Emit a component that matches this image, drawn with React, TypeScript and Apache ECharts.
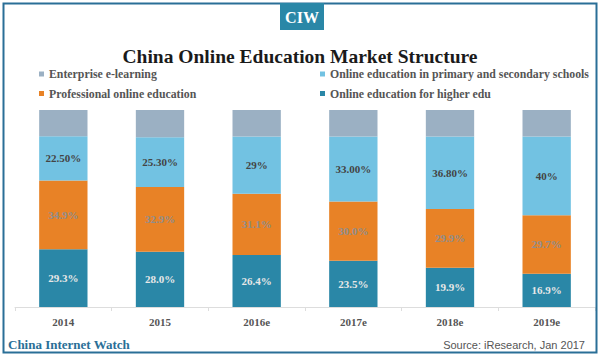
import React, { useEffect, useRef } from "react";
import * as echarts from "echarts";

const years = ["2014", "2015", "2016e", "2017e", "2018e", "2019e"];
const higherEdu = [29.3, 28.0, 26.4, 23.5, 19.9, 16.9];
const professional = [34.9, 32.9, 31.1, 30.0, 29.9, 29.7];
const primarySecondary = [22.5, 25.3, 29, 33.0, 36.8, 40];
const enterprise = [13.3, 13.8, 13.5, 13.5, 13.4, 13.4];
const primaryLabels = ["22.50%", "25.30%", "29%", "33.00%", "36.80%", "40%"];
const higherLabels = ["29.3%", "28.0%", "26.4%", "23.5%", "19.9%", "16.9%"];
const professionalLabels = ["34.9%", "32.9%", "31.1%", "30.0%", "29.9%", "29.7%"];

const SERIF = "'Liberation Serif', 'Times New Roman', serif";
const SANS = "'Liberation Sans', Arial, sans-serif";
const C_GRAY = "#9bb0c3";
const C_LBLUE = "#72c2e2";
const C_ORANGE = "#e88226";
const C_DBLUE = "#2a87a7";
const C_FRAME = "#2a6f97";

export default function App() {
  const ref = useRef<HTMLDivElement>(null);
  useEffect(() => {
    document.body.style.margin = "0";
    if (!ref.current) return;
    const chart = echarts.init(ref.current, undefined, { renderer: "svg" });
    const labelBase = {
      show: true,
      position: "inside",
      fontFamily: SERIF,
      fontWeight: "bold",
      fontSize: 11,
    };
    const legendText = { fontFamily: SERIF, fontWeight: "bold", fontSize: 11.8, color: "#555555" };
    chart.setOption({
      animation: false,
      backgroundColor: "#ffffff",
      title: {
        text: "China Online Education Market Structure",
        left: "center",
        top: 41,
        textStyle: { fontFamily: SERIF, fontWeight: "bold", fontSize: 19.5, color: "#1a1a1a" },
      },
      legend: [
        {
          orient: "vertical",
          left: 34,
          top: 63,
          itemWidth: 5,
          itemHeight: 5,
          itemGap: 7.5,
          icon: "rect",
          data: ["Enterprise e-learning", "Professional online education"],
          textStyle: legendText,
        },
        {
          orient: "vertical",
          left: 315,
          top: 63,
          itemWidth: 5,
          itemHeight: 5,
          itemGap: 7.5,
          icon: "rect",
          data: ["Online education in primary and secondary schools", "Online education for higher edu"],
          textStyle: legendText,
        },
      ],
      grid: { left: 15, right: 5, top: 110, bottom: 49 },
      xAxis: {
        type: "category",
        data: years,
        axisLine: { lineStyle: { color: "#dddddd", width: 1 } },
        axisTick: { show: true, length: 4, lineStyle: { color: "#dddddd" } },
        axisLabel: { margin: 9, fontFamily: SERIF, fontWeight: "bold", fontSize: 11, color: "#555555" },
      },
      yAxis: { type: "value", min: 0, max: 100, show: false, splitLine: { show: false } },
      series: [
        {
          name: "Online education for higher edu",
          type: "bar",
          stack: "s",
          barWidth: "50%",
          data: higherEdu,
          itemStyle: { color: C_DBLUE },
          label: { ...labelBase, color: "#e8e8e8", formatter: (p: any) => higherLabels[p.dataIndex] },
        },
        {
          name: "Professional online education",
          type: "bar",
          stack: "s",
          data: professional,
          itemStyle: { color: C_ORANGE },
          label: { ...labelBase, color: "#8e8e8e", formatter: (p: any) => professionalLabels[p.dataIndex] },
        },
        {
          name: "Online education in primary and secondary schools",
          type: "bar",
          stack: "s",
          data: primarySecondary,
          itemStyle: { color: C_LBLUE },
          label: { ...labelBase, color: "#444444", formatter: (p: any) => primaryLabels[p.dataIndex] },
        },
        {
          name: "Enterprise e-learning",
          type: "bar",
          stack: "s",
          data: enterprise,
          itemStyle: { color: C_GRAY },
          label: { show: false },
        },
      ],
      graphic: [
        {
          type: "rect",
          shape: { x: 3.5, y: 3.5, width: 593, height: 349 },
          style: { fill: "none", stroke: C_FRAME, lineWidth: 2 },
          z: 10,
        },
        {
          type: "rect",
          shape: { x: 280, y: 3, width: 44, height: 27 },
          style: { fill: C_DBLUE },
          z: 11,
        },
        {
          type: "text",
          x: 302,
          y: 17,
          style: {
            text: "CIW",
            fill: "#ffffff",
            font: `bold 16px ${SERIF}`,
            textAlign: "center",
            textVerticalAlign: "middle",
          },
          z: 12,
        },
        {
          type: "text",
          x: 8,
          y: 344,
          style: {
            text: "China Internet Watch",
            fill: C_FRAME,
            font: `bold 13px ${SERIF}`,
            textAlign: "left",
            textVerticalAlign: "middle",
          },
          z: 12,
        },
        {
          type: "text",
          x: 585,
          y: 345,
          style: {
            text: "Source: iResearch, Jan 2017",
            fill: "#555555",
            font: `11px ${SANS}`,
            textAlign: "right",
            textVerticalAlign: "middle",
          },
          z: 12,
        },
      ],
    });
    return () => chart.dispose();
  }, []);
  return <div ref={ref} style={{ width: 600, height: 356 }} />;
}
